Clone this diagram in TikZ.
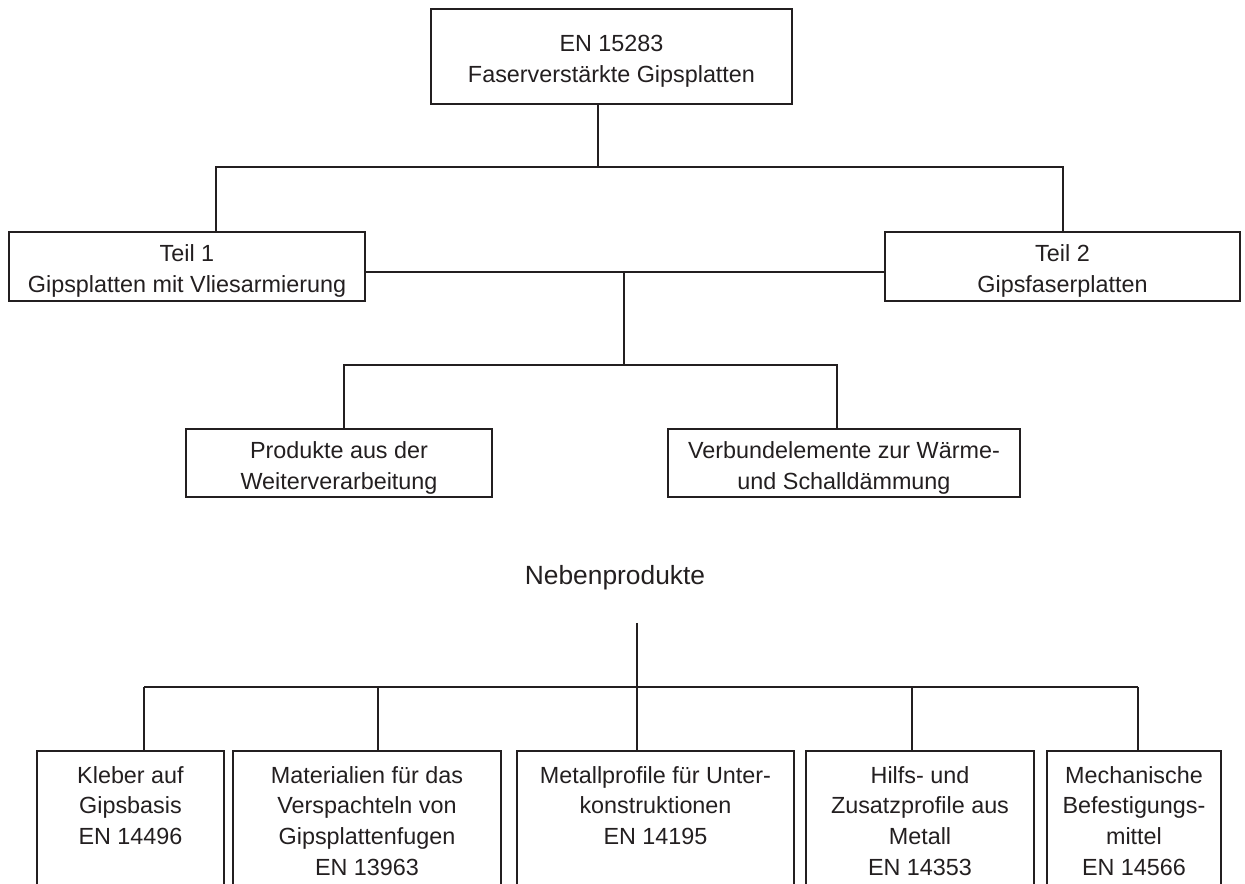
\documentclass[tikz,border=0pt]{standalone}
\usepackage{fontspec}
\setmainfont{Liberation Sans}
\usepackage{tikz}

\definecolor{ink}{HTML}{231F20}
\tikzset{
    box/.style={draw=ink, text=ink, line width=1.2pt, inner sep=0pt, align=center, font=\fontsize{13.3}{17.6}\selectfont},
    leg/.style={draw=ink, text=ink, line width=1.2pt, inner sep=0pt, anchor=north, text height=0.64cm, text depth=3.5cm, font=\fontsize{13.3}{17.6}\selectfont},
    wire/.style={draw=ink, line width=1.2pt}
}
\newcommand{\legtext}[2]{\parbox[t]{#1}{\centering #2}}
\newcommand{\lift}{\rule{0pt}{0.52cm}}

\begin{document}
\begin{tikzpicture}[x=0.02cm, y=-0.02cm]
                \useasboundingbox (0,0) rectangle (1245,884);
                \clip (0,0) rectangle (1245,884);
                \node[box, minimum width=7.22cm, minimum height=1.9cm] (en) at (611.5,56.5) {\lift EN 15283\\Faserverstärkte Gipsplatten};
                \node[box, minimum width=7.12cm, minimum height=1.38cm] (teil1) at (187,266.5) {\lift Teil 1\\Gipsplatten mit Vliesarmierung};
                \node[box, minimum width=7.1cm, minimum height=1.38cm] (teil2) at (1062.5,266.5) {\lift Teil 2\\Gipsfaserplatten};
                \node[box, minimum width=6.12cm, minimum height=1.36cm] (prod) at (339,463) {\lift Produkte aus der\\Weiterverarbeitung};
                \node[box, minimum width=7.04cm, minimum height=1.36cm] (verb) at (844,463) {\lift Verbundelemente zur Wärme-\\und Schalldämmung};
                \node[text=ink, font=\fontsize{15}{18}\selectfont, anchor=base] (neben) at (615,585) {Nebenprodukte};
                \node[leg, minimum width=3.74cm] (kleber) at (130.5,750) {\legtext{3.74cm}{Kleber auf\\Gipsbasis\\EN 14496}};
                \node[leg, minimum width=5.36cm] (mat) at (367,750) {\legtext{5.36cm}{Materialien für das\\Verspachteln von\\Gipsplattenfugen\\EN 13963}};
                \node[leg, minimum width=5.54cm] (metall) at (655.5,750) {\legtext{5.54cm}{Metallprofile für Unter-\\konstruktionen\\EN 14195}};
                \node[leg, minimum width=4.56cm] (hilfs) at (920,750) {\legtext{4.56cm}{Hilfs- und\\Zusatzprofile aus\\Metall\\EN 14353}};
                \node[leg, minimum width=3.48cm] (mech) at (1134,750) {\legtext{3.48cm}{Mechanische\\Befestigungs-\\mittel\\EN 14566}};
                \coordinate (bus1) at (598,167);
                \coordinate (d1) at (216,167);
                \coordinate (d2) at (1063,167);
                \coordinate (mid) at (624,272);
                \coordinate (bus2) at (624,365);
                \coordinate (d3) at (344,365);
                \coordinate (d4) at (837,365);
                \coordinate (stem) at (637,623);
                \coordinate (bus3) at (637,687);
                \draw[wire] (en.south -| bus1) -- (bus1);
                \draw[wire] (teil1.north -| d1) -- (d1) -- (d2) -- (teil2.north -| d2);
                \draw[wire] (teil1.east |- mid) -- (teil2.west |- mid);
                \draw[wire] (mid) -- (bus2);
                \draw[wire] (prod.north -| d3) -- (d3) -- (d4) -- (verb.north -| d4);
                \draw[wire] (stem) -- (bus3);
                \foreach \b/\x in {kleber/144, mat/378, metall/637, hilfs/912, mech/1138} {
                    \coordinate (\b-d) at (\x,687);
                    \draw[wire] (\b-d) -- (\b-d |- \b.north);
                }
                \draw[wire] (kleber-d) -- (mech-d);
\end{tikzpicture}
\end{document}
